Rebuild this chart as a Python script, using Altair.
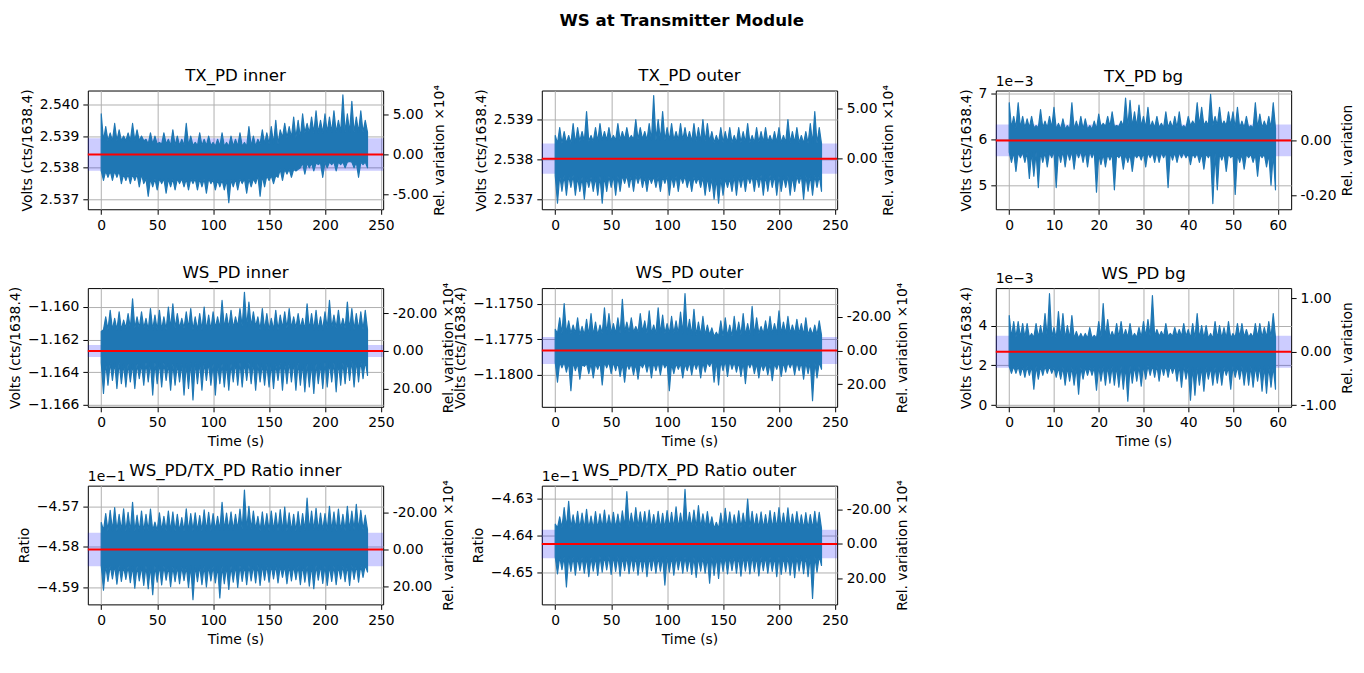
import altair as alt
import numpy as np
import pandas as pd

SUPTITLE = "WS at Transmitter Module"
PANEL_TITLES = ["TX_PD inner", "TX_PD outer", "TX_PD bg",
                "WS_PD inner", "WS_PD outer", "WS_PD bg",
                "WS_PD/TX_PD Ratio inner", "WS_PD/TX_PD Ratio outer"]
Y_TITLES = ["Volts (cts/1638.4)"] * 6 + ["Ratio"] * 2
X_TITLES = ["", "", "", "Time (s)", "Time (s)", "Time (s)", "Time (s)", "Time (s)"]
R_TITLES = ["Rel. variation ×10⁴", "Rel. variation ×10⁴", "Rel. variation",
            "Rel. variation ×10⁴", "Rel. variation ×10⁴", "Rel. variation",
            "Rel. variation ×10⁴", "Rel. variation ×10⁴"]
R_FACTOR = [1e4, 1e4, 1.0, 1e4, 1e4, 1.0, 1e4, 1e4]
OFFSET_TEXT = ["", "", "1e−3", "", "", "1e−3", "1e−1", "1e−1"]
SAMPLE_STEP = [4, 4, 1, 4, 4, 1, 4, 4]
CORE_STEP = [20, 20, 10, 20, 20, 10, 20, 20]
TITLE_OFFSETS = [0, 0, -11, 0, 0, -11, -10, -10]

MEANS = [2.53842, 2.538018, 5.978, -1.162695, -1.178288, 2.68, -4.580664, -4.642351]
STDS = [0.000515, 0.00038, 0.345, 0.000366, 0.00094, 0.8, 0.00414, 0.00385]

Y_DOMAINS = [[2.53669, 2.54044], [2.536749, 2.539728], [4.476, 7.066],
             [-1.166122, -1.158841], [-1.182232, -1.173912], [-0.085, 5.88],
             [-4.59418, -4.56491], [-4.65873, -4.62657]]
Y_TICKS = [[2.537, 2.538, 2.539, 2.540], [2.537, 2.538, 2.539], [5, 6, 7],
           [-1.166, -1.164, -1.162, -1.160], [-1.18, -1.1775, -1.175], [0, 2, 4],
           [-4.59, -4.58, -4.57], [-4.65, -4.64, -4.63]]
Y_FORMATS = [".3f", ".3f", "d", ".3f", ".4f", "d", ".2f", ".2f"]
R_TICKS = [[-5, 0, 5], [0, 5], [-0.2, 0], [-20, 0, 20], [-20, 0, 20], [-1, 0, 1],
           [-20, 0, 20], [-20, 0, 20]]
LONG_X_DOMAIN = [-12, 252]
SHORT_X_DOMAIN = [-3, 63]
LONG_X_TICKS = [0, 50, 100, 150, 200, 250]
SHORT_X_TICKS = [0, 10, 20, 30, 40, 50, 60]

# upper spikes / lower dips of each trace
HI1 = [2.5397, 2.5393, 2.5391, 2.5394, 2.5392, 2.5390, 2.5391, 2.5394, 2.5392, 2.5390,
       2.5389, 2.5391, 2.5390, 2.5388, 2.5391, 2.5389, 2.5392, 2.5390, 2.5389, 2.5394,
       2.5390, 2.5388, 2.5391, 2.5389, 2.5390, 2.5388, 2.5389, 2.5391, 2.5388, 2.5390,
       2.5389, 2.5391, 2.5388, 2.5393, 2.5390, 2.5389, 2.5392, 2.5391, 2.5393, 2.5395,
       2.5392, 2.5394, 2.5393, 2.5396, 2.5395, 2.5397, 2.5394, 2.5396, 2.5398, 2.5395,
       2.5397, 2.5396, 2.5398, 2.5395, 2.5403, 2.5397, 2.5401, 2.5396, 2.5398, 2.5395]
LO1 = [2.5376, 2.5377, 2.5376, 2.5377, 2.5375, 2.5376, 2.5375, 2.5376, 2.5374, 2.5375,
       2.5371, 2.5374, 2.5373, 2.5375, 2.5372, 2.5374, 2.5373, 2.5375, 2.5374, 2.5373,
       2.5375, 2.5373, 2.5374, 2.5372, 2.5375, 2.5373, 2.5374, 2.5373, 2.5369, 2.5374,
       2.5373, 2.5375, 2.5372, 2.5374, 2.5375, 2.5371, 2.5374, 2.5376, 2.5375, 2.5377,
       2.5376, 2.5378, 2.5377, 2.5379, 2.5380, 2.5378, 2.5380, 2.5379, 2.5381, 2.5377,
       2.5380, 2.5381, 2.5379, 2.5381, 2.5380, 2.5382, 2.5380, 2.5377, 2.5381, 2.5380]
CORE_HI1 = [2.53885, 2.53885, 2.53875, 2.53870, 2.53870, 2.53868, 2.53868, 2.53875,
            2.53895, 2.53910, 2.53912, 2.53912]
CORE_LO1 = [2.53790, 2.53780, 2.53765, 2.53765, 2.53765, 2.53762, 2.53765, 2.53775,
            2.53795, 2.53815, 2.53818, 2.53818]

HI2 = [2.5386, 2.5388, 2.5387, 2.5386, 2.5389, 2.5388, 2.5387, 2.5392, 2.5386, 2.5388,
       2.5389, 2.5387, 2.5388, 2.5386, 2.5389, 2.5387, 2.5388, 2.5386, 2.5390, 2.5388,
       2.5387, 2.5389, 2.5396, 2.5390, 2.5392, 2.5388, 2.5389, 2.5387, 2.5389, 2.5388,
       2.5387, 2.5389, 2.5388, 2.5390, 2.5389, 2.5387, 2.5386, 2.5388, 2.5387, 2.5388,
       2.5386, 2.5388, 2.5387, 2.5389, 2.5386, 2.5388, 2.5387, 2.5388, 2.5386, 2.5387,
       2.5388, 2.5386, 2.5390, 2.5387, 2.5388, 2.5386, 2.5387, 2.5389, 2.5392, 2.5388]
LO2 = [2.5369, 2.5372, 2.5371, 2.5373, 2.5371, 2.5372, 2.5370, 2.5373, 2.5372, 2.5371,
       2.5369, 2.5372, 2.5373, 2.5371, 2.5372, 2.5374, 2.5373, 2.5372, 2.5374, 2.5373,
       2.5372, 2.5374, 2.5373, 2.5372, 2.5374, 2.5371, 2.5373, 2.5372, 2.5374, 2.5373,
       2.5372, 2.5374, 2.5373, 2.5371, 2.5372, 2.5370, 2.5369, 2.5371, 2.5373, 2.5372,
       2.5371, 2.5373, 2.5372, 2.5374, 2.5372, 2.5373, 2.5371, 2.5372, 2.5373, 2.5371,
       2.5372, 2.5373, 2.5371, 2.5372, 2.5374, 2.5370, 2.5372, 2.5371, 2.5373, 2.5372]
CORE_HI2 = [2.53840, 2.53845, 2.53848, 2.53850, 2.53848, 2.53848, 2.53845, 2.53842,
            2.53842, 2.53843, 2.53842, 2.53840]
CORE_LO2 = [2.53760, 2.53755, 2.53758, 2.53760, 2.53757, 2.53758, 2.53755, 2.53752,
            2.53758, 2.53760, 2.53758, 2.53760]

HI3 = [6.8, 6.5, 6.8, 6.5, 6.45, 6.5, 6.3, 6.65, 6.4, 6.5,
       6.7, 6.35, 6.45, 6.3, 6.8, 6.4, 6.5, 6.45, 6.3, 6.4,
       6.55, 6.35, 6.5, 6.6, 6.3, 6.4, 6.9, 6.85, 6.6, 6.75,
       6.5, 6.7, 6.4, 6.5, 6.35, 6.6, 6.4, 6.5, 6.6, 6.3,
       6.5, 6.4, 6.8, 6.7, 6.4, 6.98, 6.5, 6.7, 6.4, 6.6,
       6.6, 6.7, 6.4, 6.5, 6.3, 6.8, 6.55, 6.4, 6.5, 6.8]
LO3 = [5.5, 5.3, 5.6, 5.5, 5.15, 5.2, 4.95, 5.5, 5.4, 5.6,
       4.95, 5.5, 5.4, 5.55, 5.35, 5.6, 5.5, 5.4, 5.6, 4.85,
       5.45, 5.4, 5.55, 4.9, 5.6, 5.35, 5.5, 5.3, 5.6, 5.55,
       5.4, 5.6, 5.5, 5.5, 5.6, 4.95, 5.55, 5.5, 5.6, 5.6,
       5.45, 5.6, 5.5, 5.35, 5.6, 4.6, 4.9, 5.55, 5.3, 5.6,
       4.8, 5.5, 5.35, 5.6, 5.5, 5.2, 5.6, 5.4, 5.0, 4.9]
CORE_HI3 = [6.25, 6.22, 6.28, 6.25, 6.30, 6.25]
CORE_LO3 = [5.72, 5.75, 5.68, 5.72, 5.70, 5.68]

HI4 = [-1.1615, -1.1606, -1.1602, -1.1607, -1.1603, -1.1608, -1.1604, -1.1595, -1.1606, -1.1603,
       -1.1607, -1.1601, -1.1605, -1.1602, -1.1606, -1.1600, -1.1598, -1.1604, -1.1607, -1.1603,
       -1.1601, -1.1606, -1.1604, -1.1600, -1.1605, -1.1603, -1.1606, -1.1596, -1.1604, -1.1602,
       -1.1606, -1.1601, -1.1591, -1.1597, -1.1603, -1.1606, -1.1601, -1.1604, -1.1607, -1.1602,
       -1.1605, -1.1603, -1.1601, -1.1606, -1.1604, -1.1607, -1.1598, -1.1604, -1.1602, -1.1606,
       -1.1603, -1.1596, -1.1605, -1.1602, -1.1607, -1.1597, -1.1601, -1.1604, -1.1603, -1.1602]
LO4 = [-1.1653, -1.1648, -1.1645, -1.1650, -1.1647, -1.1649, -1.1646, -1.1650, -1.1644, -1.1648,
       -1.1646, -1.1654, -1.1647, -1.1649, -1.1645, -1.1651, -1.1648, -1.1646, -1.1654, -1.1650,
       -1.1657, -1.1647, -1.1651, -1.1645, -1.1648, -1.1654, -1.1647, -1.1649, -1.1651, -1.1646,
       -1.1648, -1.1649, -1.1645, -1.1647, -1.1651, -1.1646, -1.1648, -1.1649, -1.1650, -1.1645,
       -1.1651, -1.1647, -1.1646, -1.1651, -1.1648, -1.1652, -1.1649, -1.1653, -1.1647, -1.1650,
       -1.1649, -1.1646, -1.1652, -1.1648, -1.1647, -1.1645, -1.1649, -1.1646, -1.1644, -1.1642]
CORE_HI4 = [-1.1614, -1.1613, -1.1614, -1.1613, -1.1614, -1.1613, -1.1612, -1.1614,
            -1.1613, -1.1614, -1.1613, -1.1614]
CORE_LO4 = [-1.1634, -1.1635, -1.1634, -1.1635, -1.1634, -1.1635, -1.1634, -1.1635,
            -1.1634, -1.1635, -1.1634, -1.1633]

HI5 = [-1.1768, -1.1760, -1.1750, -1.1762, -1.1765, -1.1760, -1.1766, -1.1761, -1.1757, -1.1763,
       -1.1765, -1.1753, -1.1757, -1.1764, -1.1760, -1.1747, -1.1763, -1.1760, -1.1766, -1.1757,
       -1.1762, -1.1755, -1.1765, -1.1753, -1.1758, -1.1764, -1.1759, -1.1762, -1.1756, -1.1743,
       -1.1761, -1.1754, -1.1763, -1.1759, -1.1765, -1.1767, -1.1770, -1.1762, -1.1760, -1.1765,
       -1.1759, -1.1763, -1.1757, -1.1764, -1.1752, -1.1760, -1.1766, -1.1762, -1.1759, -1.1764,
       -1.1755, -1.1763, -1.1759, -1.1765, -1.1761, -1.1764, -1.1760, -1.1767, -1.1765, -1.1762]
LO5 = [-1.1805, -1.1795, -1.1798, -1.1811, -1.1797, -1.1803, -1.1794, -1.1799, -1.1802, -1.1796,
       -1.1807, -1.1795, -1.1799, -1.1797, -1.1801, -1.1805, -1.1796, -1.1800, -1.1803, -1.1795,
       -1.1798, -1.1802, -1.1797, -1.1800, -1.1795, -1.1811, -1.1799, -1.1796, -1.1802, -1.1797,
       -1.1800, -1.1796, -1.1802, -1.1798, -1.1794, -1.1805, -1.1807, -1.1797, -1.1801, -1.1796,
       -1.1798, -1.1801, -1.1806, -1.1795, -1.1799, -1.1802, -1.1797, -1.1800, -1.1804, -1.1796,
       -1.1801, -1.1798, -1.1795, -1.1800, -1.1797, -1.1803, -1.1799, -1.1818, -1.1802, -1.1796]
CORE_HI5 = [-1.1771, -1.1772, -1.1771, -1.1770, -1.1771, -1.1771, -1.1772, -1.1773,
            -1.1772, -1.1771, -1.1771, -1.1772]
CORE_LO5 = [-1.1791, -1.1792, -1.1791, -1.1792, -1.1791, -1.1792, -1.1791, -1.1790,
            -1.1791, -1.1792, -1.1791, -1.1791]

HI6 = [4.5, 4.2, 4.2, 4.1, 4.1, 3.6, 4.1, 4.0, 4.6, 5.6,
       3.9, 4.7, 4.6, 4.0, 4.5, 3.7, 3.6, 3.6, 3.9, 3.5,
       4.2, 5.1, 4.3, 3.7, 4.1, 4.2, 3.8, 4.1, 3.6, 3.9,
       4.2, 4.3, 5.5, 3.8, 3.7, 4.1, 3.6, 3.9, 3.8, 4.1,
       3.8, 4.1, 4.6, 4.0, 4.0, 3.6, 4.2, 4.0, 3.9, 4.2,
       3.6, 4.1, 4.1, 3.8, 3.6, 4.1, 4.1, 3.9, 4.2, 4.6]
LO6 = [1.6, 1.6, 1.5, 1.4, 1.5, 0.8, 1.3, 1.5, 1.6, 1.6,
       1.4, 1.3, 1.0, 1.2, 1.0, 0.55, 1.3, 1.5, 1.5, 0.75,
       1.2, 1.0, 1.1, 1.0, 0.9, 0.8, 0.2, 1.1, 1.2, 0.95,
       1.3, 1.5, 1.4, 1.2, 1.5, 1.4, 1.6, 1.2, 0.9, 1.3,
       0.25, 0.5, 1.0, 0.7, 1.3, 1.0, 1.1, 1.0, 1.5, 0.8,
       1.4, 1.3, 1.0, 1.0, 0.9, 1.2, 0.7, 0.6, 0.9, 0.8]
CORE_HI6 = [3.4, 3.35, 3.4, 3.45, 3.35, 3.4]
CORE_LO6 = [1.95, 1.9, 1.95, 2.0, 1.9, 1.95]

HI7 = [-4.5740, -4.5718, -4.5710, -4.5703, -4.5720, -4.5706, -4.5715, -4.5690, -4.5722, -4.5712,
       -4.5720, -4.5707, -4.5739, -4.5716, -4.5725, -4.5712, -4.5714, -4.5720, -4.5728, -4.5706,
       -4.5718, -4.5716, -4.5723, -4.5709, -4.5715, -4.5718, -4.5725, -4.5690, -4.5717, -4.5714,
       -4.5720, -4.5707, -4.5660, -4.5700, -4.5712, -4.5725, -4.5714, -4.5718, -4.5712, -4.5716,
       -4.5708, -4.5702, -4.5716, -4.5720, -4.5713, -4.5718, -4.5680, -4.5712, -4.5705, -4.5717,
       -4.5718, -4.5700, -4.5714, -4.5707, -4.5720, -4.5700, -4.5712, -4.5695, -4.5710, -4.5722]
LO7 = [-4.5907, -4.5885, -4.5879, -4.5892, -4.5885, -4.5880, -4.5888, -4.5902, -4.5884, -4.5895,
       -4.5903, -4.5918, -4.5887, -4.5894, -4.5882, -4.5898, -4.5886, -4.5891, -4.5883, -4.5900,
       -4.5930, -4.5886, -4.5893, -4.5899, -4.5884, -4.5889, -4.5926, -4.5891, -4.5905, -4.5887,
       -4.5900, -4.5885, -4.5893, -4.5884, -4.5889, -4.5895, -4.5882, -4.5887, -4.5879, -4.5889,
       -4.5875, -4.5891, -4.5884, -4.5881, -4.5893, -4.5887, -4.5897, -4.5903, -4.5882, -4.5890,
       -4.5895, -4.5885, -4.5893, -4.5879, -4.5886, -4.5895, -4.5880, -4.5887, -4.5875, -4.5862]
CORE_HI7 = [-4.5760, -4.5762, -4.5760, -4.5761, -4.5760, -4.5758, -4.5757, -4.5760,
            -4.5761, -4.5759, -4.5760, -4.5758]
CORE_LO7 = [-4.5846, -4.5848, -4.5847, -4.5849, -4.5847, -4.5848, -4.5846, -4.5845,
            -4.5847, -4.5846, -4.5847, -4.5845]

HI8 = [-4.6370, -4.6350, -4.6325, -4.6308, -4.6345, -4.6335, -4.6340, -4.6330, -4.6348, -4.6336,
       -4.6342, -4.6332, -4.6345, -4.6338, -4.6343, -4.6334, -4.6282, -4.6340, -4.6325, -4.6337,
       -4.6336, -4.6332, -4.6344, -4.6335, -4.6341, -4.6333, -4.6338, -4.6323, -4.6340, -4.6276,
       -4.6338, -4.6332, -4.6320, -4.6342, -4.6336, -4.6350, -4.6365, -4.6340, -4.6327, -4.6337,
       -4.6345, -4.6334, -4.6340, -4.6302, -4.6335, -4.6342, -4.6337, -4.6344, -4.6333, -4.6338,
       -4.6325, -4.6340, -4.6326, -4.6343, -4.6336, -4.6345, -4.6339, -4.6344, -4.6335, -4.6338]
LO8 = [-4.6505, -4.6493, -4.6540, -4.6498, -4.6508, -4.6495, -4.6503, -4.6512, -4.6497, -4.6509,
       -4.6500, -4.6494, -4.6506, -4.6498, -4.6511, -4.6496, -4.6504, -4.6497, -4.6508, -4.6499,
       -4.6512, -4.6496, -4.6503, -4.6497, -4.6535, -4.6500, -4.6508, -4.6494, -4.6503, -4.6498,
       -4.6506, -4.6514, -4.6497, -4.6503, -4.6530, -4.6509, -4.6517, -4.6498, -4.6505, -4.6496,
       -4.6503, -4.6511, -4.6497, -4.6505, -4.6499, -4.6510, -4.6496, -4.6503, -4.6498, -4.6512,
       -4.6506, -4.6499, -4.6508, -4.6515, -4.6497, -4.6504, -4.6512, -4.6571, -4.6500, -4.6482]
CORE_HI8 = [-4.6380, -4.6382, -4.6380, -4.6378, -4.6381, -4.6380, -4.6379, -4.6382,
            -4.6380, -4.6381, -4.6380, -4.6382]
CORE_LO8 = [-4.6458, -4.6460, -4.6457, -4.6458, -4.6459, -4.6458, -4.6460, -4.6458,
            -4.6457, -4.6459, -4.6458, -4.6456]

HIS = [HI1, HI2, HI3, HI4, HI5, HI6, HI7, HI8]
LOS = [LO1, LO2, LO3, LO4, LO5, LO6, LO7, LO8]
CORE_HIS = [CORE_HI1, CORE_HI2, CORE_HI3, CORE_HI4, CORE_HI5, CORE_HI6, CORE_HI7, CORE_HI8]
CORE_LOS = [CORE_LO1, CORE_LO2, CORE_LO3, CORE_LO4, CORE_LO5, CORE_LO6, CORE_LO7, CORE_LO8]

W, H = 296, 119
FONT = "DejaVu Sans"
TRACE = "#1f77b4"


def trace_table(i):
    hi, lo = HIS[i], LOS[i]
    chi, clo = CORE_HIS[i], CORE_LOS[i]
    step, cstep = SAMPLE_STEP[i], CORE_STEP[i]
    rows = []
    for k in range(len(hi)):
        ta = k * step
        tb = k * step + step / 2
        rows.append({"t": ta, "lower": clo[int(ta // cstep)], "upper": hi[k]})
        rows.append({"t": tb, "lower": lo[k], "upper": chi[int(tb // cstep)]})
    return pd.DataFrame(rows)


def panel(i):
    df = trace_table(i)
    m, s = MEANS[i], STDS[i]
    d0, d1 = Y_DOMAINS[i]
    long = SAMPLE_STEP[i] == 4
    xdom = LONG_X_DOMAIN if long else SHORT_X_DOMAIN
    xticks = LONG_X_TICKS if long else SHORT_X_TICKS

    xsc = alt.Scale(domain=xdom, nice=False, zero=False)
    ysc = alt.Scale(domain=[d0, d1], nice=False, zero=False)
    k = R_FACTOR[i]
    r0, r1 = (d0 - m) / m * k, (d1 - m) / m * k
    if r0 > r1:
        rsc = alt.Scale(domain=[r1, r0], nice=False, zero=False, reverse=True)
    else:
        rsc = alt.Scale(domain=[r0, r1], nice=False, zero=False)

    xaxis = alt.Axis(values=xticks, format="d", grid=True,
                     title=X_TITLES[i] if X_TITLES[i] else None)
    yaxis = alt.Axis(orient="left", values=Y_TICKS[i], format=Y_FORMATS[i],
                     grid=True, title=Y_TITLES[i])
    raxis = alt.Axis(orient="right", values=R_TICKS[i], grid=False,
                     title=R_TITLES[i], titleAngle=270, titleBaseline="top",
                     labelExpr="replace(format(datum.value, '.2f'), '\u2212', '-')")

    band = alt.Chart(pd.DataFrame({"b0": [m - s], "b1": [m + s]})).mark_rect(
        color="blue", opacity=0.2
    ).encode(y=alt.Y("b0:Q", scale=ysc, axis=None), y2="b1:Q")

    trace = alt.Chart(df).mark_area(
        color=TRACE, stroke=TRACE, strokeWidth=1.2, strokeJoin="round",
        opacity=1, clip=True
    ).encode(
        x=alt.X("t:Q", scale=xsc, axis=xaxis),
        y=alt.Y("lower:Q", scale=ysc, axis=yaxis),
        y2="upper:Q",
    )

    mean_rule = alt.Chart(pd.DataFrame({"r": [0.0]})).mark_rule(
        color="red", strokeWidth=2
    ).encode(y=alt.Y("r:Q", scale=rsc, axis=raxis))

    layers = [band, trace, mean_rule]
    if OFFSET_TEXT[i]:
        layers.append(
            alt.Chart(pd.DataFrame({"a": [0]})).mark_text(
                text=OFFSET_TEXT[i], align="left", baseline="alphabetic",
                font=FONT, fontSize=13.9, color="black"
            ).encode(x=alt.value(0), y=alt.value(-5))
        )
    return alt.layer(*layers).resolve_scale(y="independent").properties(
        width=W, height=H,
        title=alt.TitleParams(PANEL_TITLES[i], font=FONT, fontSize=16.67,
                              fontWeight="normal", color="black",
                              anchor="middle", frame="group",
                              offset=TITLE_OFFSETS[i]),
    )


chart = alt.concat(
    *[panel(i) for i in range(8)],
    columns=3,
    spacing={"row": 79, "column": 159},
    bounds="flush",
    title=alt.TitleParams(SUPTITLE, font=FONT, fontSize=16.67, fontWeight="bold",
                          color="black", anchor="middle", offset=38, dx=0),
).properties(
    padding={"left": 0, "top": 4, "right": 0, "bottom": 0}
).configure_view(
    stroke="black", strokeWidth=1
).configure_axis(
    labelFont=FONT, labelFontSize=13.9, labelColor="black",
    titleFont=FONT, titleFontSize=13.9, titleFontWeight="normal", titleColor="black",
    tickColor="black", tickSize=5, tickWidth=1, domain=False,
    gridColor="#b0b0b0", gridWidth=1, labelPadding=4, titlePadding=5,
    labelFlush=False, labelOverlap=False,
)

chart.save("out.html", embed_options={"renderer": "svg", "actions": False})
